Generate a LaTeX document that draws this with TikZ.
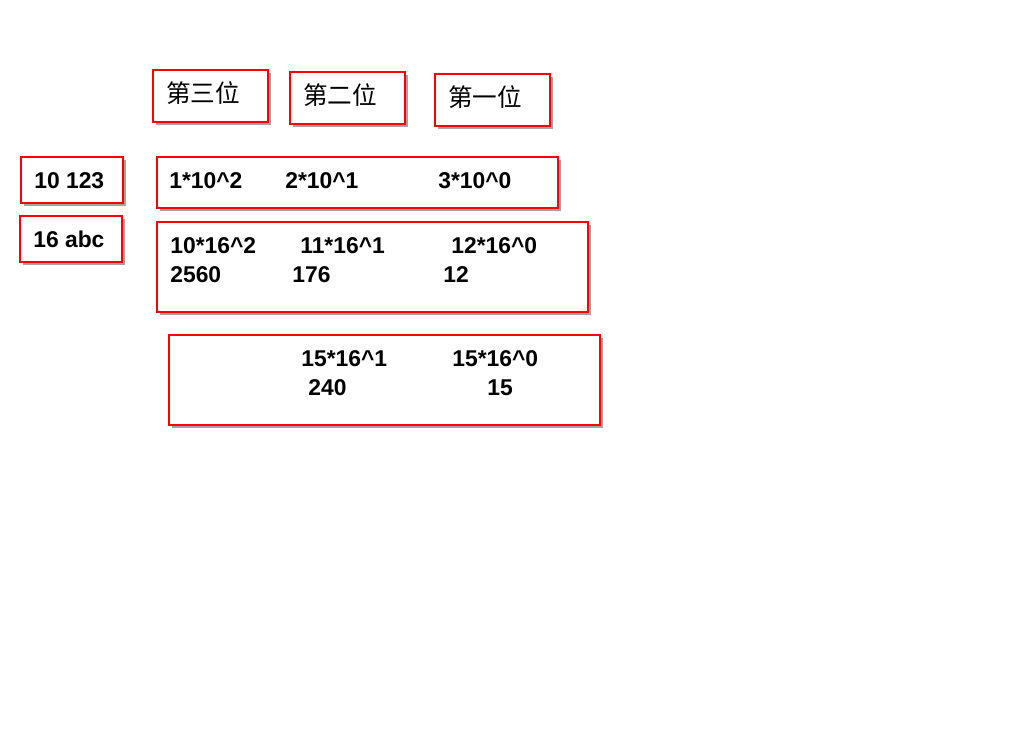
\documentclass[tikz,border=0pt]{standalone}
\usepackage{fontspec}
\setmainfont{Liberation Sans}
\newfontfamily\cjk{Noto Sans CJK SC}
\usetikzlibrary{shadows}

\begin{document}
\begin{tikzpicture}[x=0.02cm, y=-0.02cm,
		redbox/.style={draw=red, line width=1.6pt, fill=white,
			drop shadow={shadow xshift=1.8pt, shadow yshift=-1.8pt, fill=black!60, opacity=.6}},
		num/.style={anchor=base west, inner sep=0pt, font=\fontsize{13}{15}\selectfont\bfseries},
		wei/.style={anchor=base west, inner sep=0pt, font=\fontsize{14}{16}\selectfont\cjk}]
			\useasboundingbox (0,0) rectangle (1024,728);

			% position headers
			\draw[redbox] (153,70) rectangle (268,122);
			\node[wei] (third) at (166,102) {第三位};
			\draw[redbox] (290,72) rectangle (405,124);
			\node[wei] (second) at (303,104) {第二位};
			\draw[redbox] (435,74) rectangle (550,126);
			\node[wei] (first) at (448,106) {第一位};

			% bases
			\draw[redbox] (21,157) rectangle (123,203);
			\node[num] (dec) at (34,188) {10 123};
			\draw[redbox] (20,216) rectangle (122,262);
			\node[num] (hex) at (33,247) {16 abc};

			% base 10
			\draw[redbox] (157,157) rectangle (558,208);
			\node[num] (d2) at (169,188) {1*10\textasciicircum 2};
			\node[num] (d1) at (285,188) {2*10\textasciicircum 1};
			\node[num] (d0) at (438,188) {3*10\textasciicircum 0};

			% base 16, abc
			\draw[redbox] (157,222) rectangle (588,312);
			\node[num] (h2) at (170,253) {10*16\textasciicircum 2};
			\node[num] (h1) at (300,253) {11*16\textasciicircum 1};
			\node[num] (h0) at (451,253) {12*16\textasciicircum 0};
			\node[num] (v2) at (170,282) {2560};
			\node[num] (v1) at (292,282) {176};
			\node[num] (v0) at (443,282) {12};

			% base 16, ff
			\draw[redbox] (169,335) rectangle (600,425);
			\node[num] (f1) at (301,366) {15*16\textasciicircum 1};
			\node[num] (f0) at (452,366) {15*16\textasciicircum 0};
			\node[num] (w1) at (308,395) {240};
			\node[num] (w0) at (487,395) {15};
		\end{tikzpicture}
\end{document}
